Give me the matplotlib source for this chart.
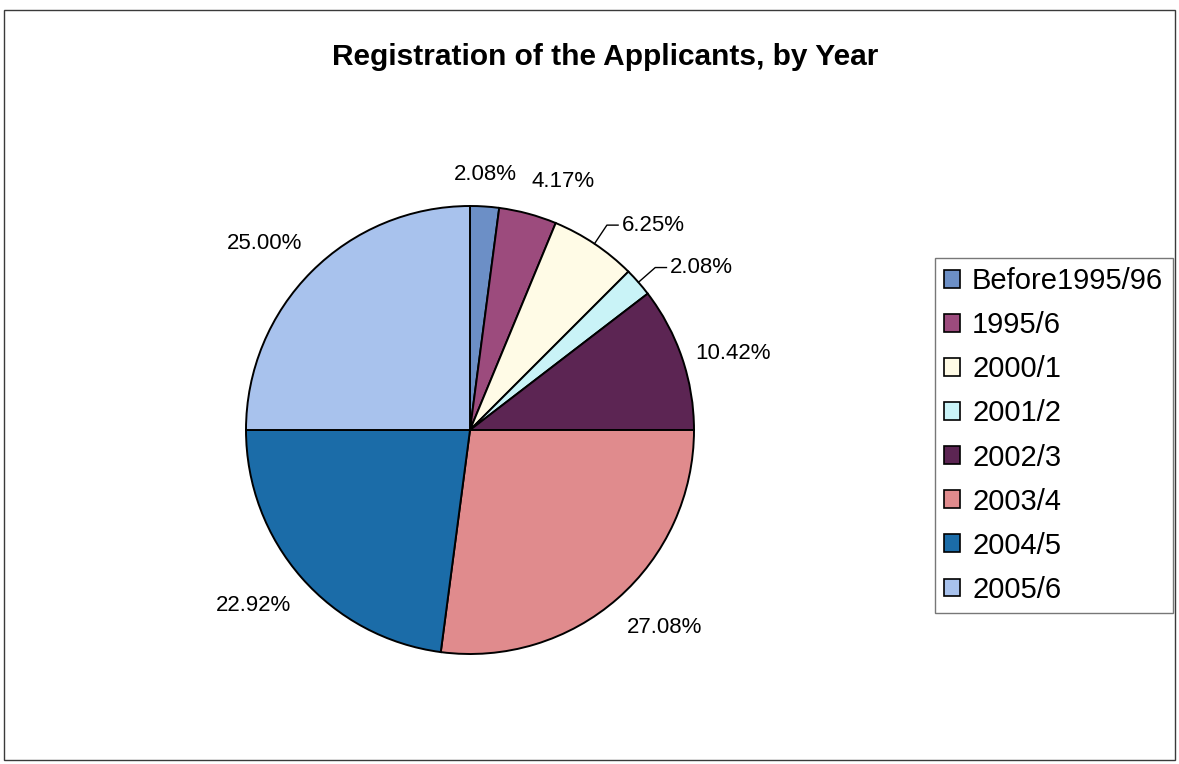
import numpy as np
import matplotlib
matplotlib.use('Agg')
from matplotlib import pyplot as plt
from matplotlib.patches import Rectangle

# data ---------------------------------------------------------------
years = ['Before1995/96', '1995/6', '2000/1', '2001/2',
         '2002/3', '2003/4', '2004/5', '2005/6']
applicants = [1, 2, 3, 1, 5, 13, 11, 12]
colours = ['#6c8fc6', '#9c4b7d', '#fffbe6', '#c9f3f7',
           '#5c2553', '#e08b8d', '#1b6ca8', '#a8c2ed']
# labels pulled out with a leader line
leader = [0, 0, 1, 1, 0, 0, 0, 0]

plt.rcParams['font.family'] = ['Liberation Sans', 'DejaVu Sans']

W, H = 1179, 764
fig = plt.figure(figsize=(W / 100, H / 100), dpi=100)
fig.patch.set_facecolor('white')

# chart area frame
fig.patches.append(Rectangle((4 / W, 4 / H), 1171 / W, 750 / H,
                             transform=fig.transFigure, fill=False,
                             edgecolor='#3a3a3a', linewidth=1.0))

fig.text(605 / W, 1 - 57 / H, 'Registration of the Applicants, by Year',
         ha='center', va='center', fontsize=21.5, fontweight='bold')

# pie -----------------------------------------------------------------
cx, cy, R = 470, 430, 224
ax = fig.add_axes([(cx - R) / W, (H - cy - R) / H, 2 * R / W, 2 * R / H])
wedges, _ = ax.pie(applicants, colors=colours, startangle=90,
                   counterclock=False, radius=1.0,
                   wedgeprops=dict(edgecolor='black', linewidth=1.4))
ax.set_xlim(-1, 1)
ax.set_ylim(-1, 1)
ax.set_axis_off()

total = float(sum(applicants))
for w, n, lead in zip(wedges, applicants, leader):
    pct = '%.2f%%' % (100 * n / total)
    mid = np.deg2rad((w.theta1 + w.theta2) / 2)
    ux, uy = np.cos(mid), np.sin(mid)
    if lead:
        ex, ey = 1.1 * ux, 1.1 * uy
        ax.plot([ux, ex, ex + 0.05], [uy, ey, ey], color='black',
                linewidth=1.0, clip_on=False)
        ax.text(ex + 0.065, ey, pct, ha='left', va='center',
                fontsize=16, clip_on=False)
        continue
    tx, ty = 1.06 * ux, 1.06 * uy
    # keep the text box clear of the rim above/below the pie
    if abs(uy) > 0.5:
        ty += 0.085 * np.sign(uy)
    if abs(ux) < 0.1:
        ha = 'center'
    elif ux > 0:
        ha = 'left'
    else:
        ha = 'right'
    ax.text(tx, ty, pct, ha=ha, va='center', fontsize=16, clip_on=False)

# legend --------------------------------------------------------------
leg = fig.legend(wedges, years, loc='upper left',
                 bbox_to_anchor=(935 / W, 1 - 258 / H),
                 fontsize=21, frameon=True, fancybox=False,
                 edgecolor='#555555', handlelength=0.55, handleheight=0.55,
                 handletextpad=0.4, labelspacing=0.55, borderpad=0.32,
                 borderaxespad=0)
leg.get_frame().set_linewidth(1.0)
for h in leg.legend_handles:
    h.set_linewidth(1.2)

fig.savefig('out.png', dpi=100, facecolor='white')
